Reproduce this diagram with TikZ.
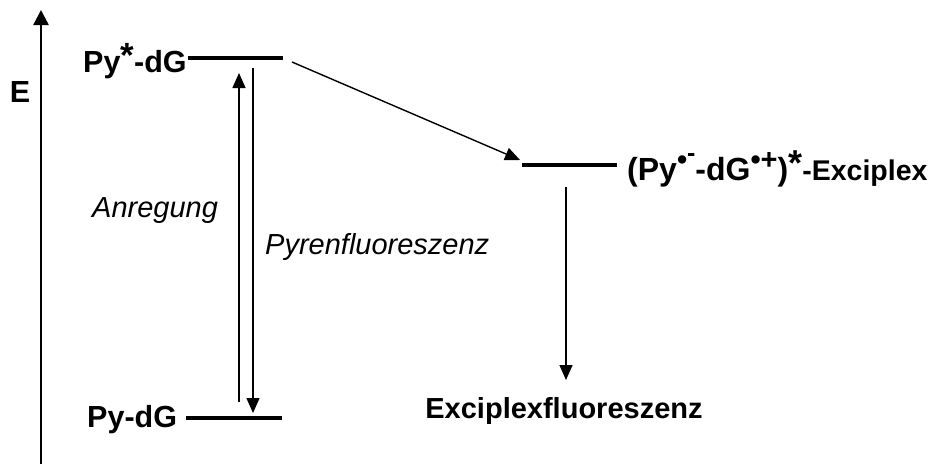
\documentclass[tikz,border=0pt]{standalone}
\usepackage{fontspec}
\setmainfont{Liberation Sans}
\usetikzlibrary{arrows.meta}
\tikzset{
  lbl/.style={inner sep=0pt, font=\fontsize{30.5}{36}\selectfont\bfseries},
  itlbl/.style={inner sep=0pt, font=\fontsize{29}{34}\selectfont\itshape},
  level/.style={line width=3.2pt},
  axis/.style={line width=2.4pt, -{Triangle[length=15pt,width=15pt]}},
  trans/.style={line width=1.4pt, -{Triangle[length=15pt,width=13pt]}}
}
\newcommand{\supmark}[3]{\raisebox{#1}{\fontsize{#2}{#2}\selectfont #3}}
\begin{document}
\begin{tikzpicture}[x=1pt,y=-1pt]
  \useasboundingbox (0,0) rectangle (936,464);

  % energy axis
  \coordinate (axb) at (41,464);
  \coordinate (axt) at (41,10);
  \draw[axis] (axb) -- (axt);
  \node[lbl, anchor=base] (E) at (20,102) {E};

  % pyrene levels
  \coordinate (exl) at (188,58);
  \coordinate (exr) at (283,58);
  \coordinate (gsl) at (186,418);
  \coordinate (gsr) at (282,418);
  \draw[level] (exl) -- (exr);
  \draw[level] (gsl) -- (gsr);
  \node[lbl, anchor=base west] (pyex) at (83,72) {Py\supmark{0.14em}{35}{*}-dG};
  \node[lbl, anchor=base west] (pygs) at (87,427) {Py-dG};

  % excitation and fluorescence
  \coordinate (upb) at (239,402);
  \coordinate (upt) at (239,73);
  \coordinate (dnt) at (253,68);
  \coordinate (dnb) at (253,413);
  \draw[trans] (upb) -- (upt);
  \draw[trans] (dnt) -- (dnb);
  \node[itlbl, anchor=base west] (anr) at (92,217) {Anregung};
  \node[itlbl, anchor=base west] (pfl) at (265,254) {Pyrenfluoreszenz};

  % exciplex level
  \coordinate (cxl) at (522,165);
  \coordinate (cxr) at (617,165);
  \draw[level] (cxl) -- (cxr);
  \node[lbl, anchor=base west, font=\fontsize{32}{36}\selectfont\bfseries] (cx) at (627,180)
    {(Py\supmark{0.33em}{29}{•}\supmark{0.58em}{25}{-}-dG\supmark{0.33em}{29}{•+})\supmark{0.14em}{36}{*}{\fontsize{28.5}{32}\selectfont -Exciplex}};

  % charge transfer
  \coordinate (cts) at (292,62);
  \coordinate (cte) at (520,160);
  \draw[trans] (cts) -- (cte);

  % exciplex emission
  \coordinate (emt) at (566,187);
  \coordinate (emb) at (566,380);
  \draw[trans] (emt) -- (emb);
  \node[lbl, anchor=base, font=\fontsize{29}{34}\selectfont\bfseries] (cxfl) at (564,418) {Exciplexfluoreszenz};
\end{tikzpicture}
\end{document}
